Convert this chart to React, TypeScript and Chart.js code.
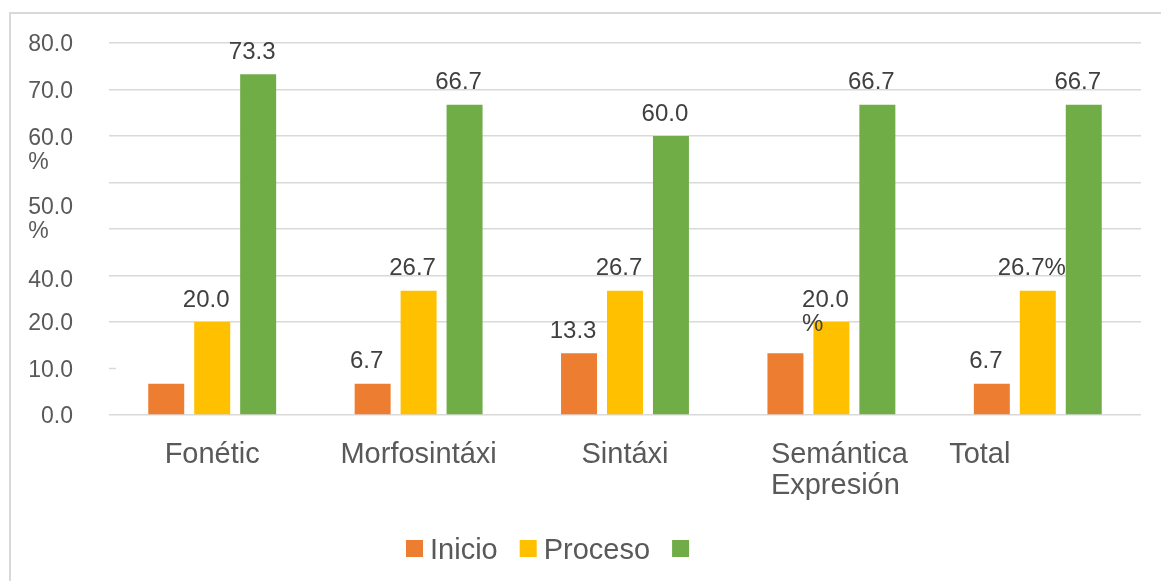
import React, { useEffect, useRef } from "react";
import { Chart, registerables } from "chart.js";

Chart.register(...registerables);

const categories = ["Fonétic", "Morfosintáxi", "Sintáxi", "Semántica\nExpresión", "Total"];
const inicioValues = [6.7, 6.7, 13.3, 13.3, 6.7];
const procesoValues = [20.0, 26.7, 26.7, 20.0, 26.7];
const logroValues = [73.3, 66.7, 60.0, 66.7, 66.7];
const inicioLabels = ["", "6.7", "13.3", "", "6.7"];
const procesoLabels = ["20.0", "26.7", "26.7", "20.0\n%", "26.7%"];
const logroLabels = ["73.3", "66.7", "60.0", "66.7", "66.7"];
const seriesNames = ["Inicio", "Proceso", ""];
const yTickTexts = ["80.0", "70.0", "60.0\n%", "50.0\n%", "40.0", "20.0", "10.0", "0.0"];
const yTickValues = [80, 70, 60, 45.2, 29.3, 20, 10, 0];

const COLORS = ["#ED7D31", "#FFC000", "#70AD47"];
const FONT = "'Liberation Sans', Arial, sans-serif";
const GRID = "#D9D9D9";
const X_LABEL_NUDGE = [0, 0, 0, 8, -58];
const TEXT_DY = 2;

const drawPlugin = {
  id: "custom",
  beforeDraw(chart: any) {
    const ctx = chart.ctx;
    ctx.save();
    ctx.fillStyle = "#ffffff";
    ctx.fillRect(0, 0, chart.width, chart.height);
    ctx.strokeStyle = GRID;
    ctx.lineWidth = 2;
    ctx.beginPath();
    ctx.moveTo(10, chart.height);
    ctx.lineTo(10, 13);
    ctx.lineTo(chart.width, 13);
    ctx.stroke();
    ctx.restore();
  },
  afterDraw(chart: any) {
    const ctx = chart.ctx;
    const y = chart.scales.y;
    const x = chart.scales.x;
    const area = chart.chartArea;
    ctx.save();
    // stub tick at 10
    ctx.strokeStyle = GRID;
    ctx.lineWidth = 1.5;
    ctx.beginPath();
    const y10 = y.getPixelForValue(10);
    ctx.moveTo(area.left, y10);
    ctx.lineTo(area.left + 7, y10);
    ctx.stroke();

    // y labels
    ctx.font = `23px ${FONT}`;
    ctx.fillStyle = "#595959";
    ctx.textBaseline = "middle";
    ctx.textAlign = "left";
    const rightEdge = 73;
    yTickTexts.forEach((t, i) => {
      const lines = t.split("\n");
      const w = ctx.measureText(lines[0]).width;
      const left = rightEdge - w;
      const py = y.getPixelForValue(yTickValues[i]) + TEXT_DY + (lines.length > 1 ? 1 : 0);
      lines.forEach((ln, k) => ctx.fillText(ln, left, py + k * 24));
    });

    // x labels
    ctx.font = `29px ${FONT}`;
    ctx.fillStyle = "#595959";
    categories.forEach((c, i) => {
      const lines = c.split("\n");
      const maxW = Math.max(...lines.map((l) => ctx.measureText(l).width));
      const cx = x.getPixelForValue(i) + X_LABEL_NUDGE[i];
      const left = cx - maxW / 2;
      lines.forEach((ln, k) => ctx.fillText(ln, left, 453 + TEXT_DY + k * 31));
    });

    // data labels
    ctx.font = `24px ${FONT}`;
    ctx.fillStyle = "#404040";
    const allLabels = [inicioLabels, procesoLabels, logroLabels];
    allLabels.forEach((labels, di) => {
      const meta = chart.getDatasetMeta(di);
      meta.data.forEach((bar: any, i: number) => {
        const t = labels[i];
        if (!t) return;
        const lines = t.split("\n");
        const w = ctx.measureText(lines[0]).width;
        const left = bar.x - 6 - w / 2;
        lines.forEach((ln, k) => ctx.fillText(ln, left, bar.y - 24 + TEXT_DY + k * 24));
      });
    });

    // legend
    ctx.font = `29px ${FONT}`;
    let lx = 406;
    const ly = 549;
    seriesNames.forEach((n, i) => {
      ctx.fillStyle = COLORS[i];
      ctx.fillRect(lx, ly - 9, 17, 17);
      lx += 17 + 7;
      ctx.fillStyle = "#595959";
      if (n) {
        ctx.fillText(n, lx, ly + TEXT_DY);
        lx += ctx.measureText(n).width + 22;
      }
    });
    ctx.restore();
  },
};

export default function App() {
  const ref = useRef<HTMLCanvasElement>(null);
  useEffect(() => {
    document.body.style.margin = "0";
    const chart = new Chart(ref.current!, {
      type: "bar",
      data: {
        labels: categories,
        datasets: [
          { label: seriesNames[0], data: inicioValues, backgroundColor: COLORS[0] },
          { label: seriesNames[1], data: procesoValues, backgroundColor: COLORS[1] },
          { label: seriesNames[2], data: logroValues, backgroundColor: COLORS[2] },
        ],
      },
      options: {
        responsive: false,
        animation: false,
        devicePixelRatio: 1,
        categoryPercentage: 0.668,
        barPercentage: 0.783,
        layout: { padding: { left: 109, right: 20, top: 43, bottom: 166 } },
        plugins: { legend: { display: false }, tooltip: { enabled: false } },
        scales: {
          x: {
            grid: { display: false, drawTicks: false },
            border: { display: false },
            ticks: { display: false },
          },
          y: {
            min: 0,
            max: 80,
            ticks: { display: false, stepSize: 10 },
            border: { display: false },
            grid: {
              drawTicks: false,
              lineWidth: 1.5,
              color: (c: any) => (c.tick && c.tick.value === 10 ? "rgba(0,0,0,0)" : GRID),
            },
          },
        },
      },
      plugins: [drawPlugin],
    });
    return () => chart.destroy();
  }, []);
  return (
    <div style={{ position: "absolute", left: 0, top: 0 }}>
      <canvas ref={ref} width={1161} height={581} style={{ display: "block" }} />
    </div>
  );
}
